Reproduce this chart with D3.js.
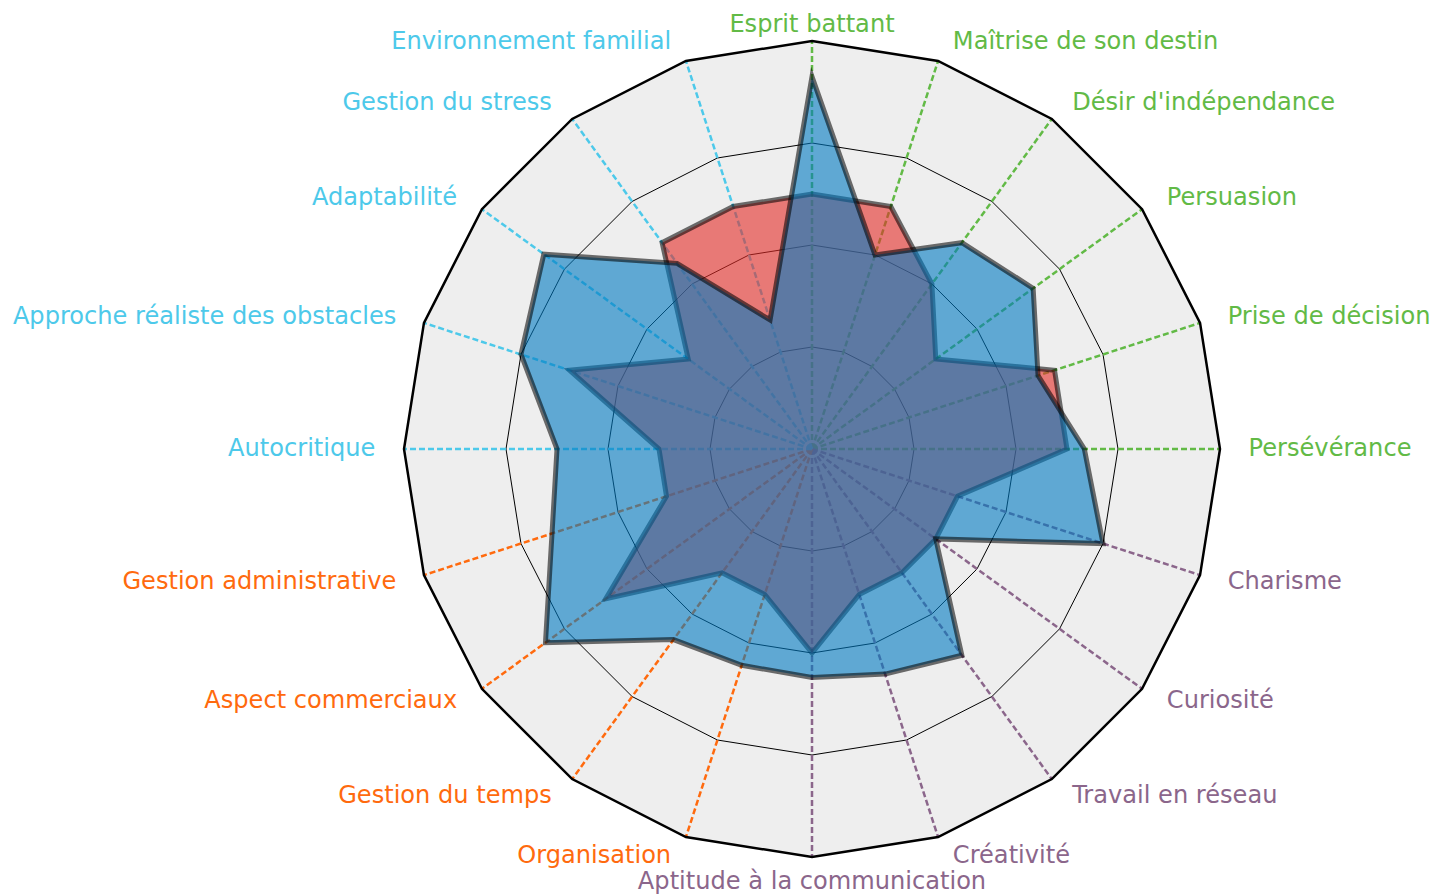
<!DOCTYPE html>
<html>
<head>
<meta charset="utf-8">
<script src="https://cdn.jsdelivr.net/npm/d3@7"></script>
<style>
  html, body { margin: 0; padding: 0; background: #ffffff; }
  svg { display: block; }
</style>
</head>
<body>
<div id="chart"></div>
<script>
// ---- data ----
const categories = [
  "Esprit battant", "Maîtrise de son destin", "Désir d'indépendance", "Persuasion",
  "Prise de décision", "Persévérance", "Charisme", "Curiosité", "Travail en réseau",
  "Créativité", "Aptitude à la communication", "Organisation", "Gestion du temps",
  "Aspect commerciaux", "Gestion administrative", "Autocritique",
  "Approche réaliste des obstacles", "Adaptabilité", "Gestion du stress",
  "Environnement familial"
];
const groups = [
  "g", "g", "g", "g", "g", "g",
  "p", "p", "p", "p", "p",
  "o", "o", "o", "o",
  "c", "c", "c", "c", "c"
];
const seriesRed  = [2.5, 2.5, 2.0, 1.5, 2.5, 2.5, 1.5, 1.5, 1.5, 1.5, 2.0, 1.5, 1.5, 2.5, 1.5, 1.5, 2.5, 1.5, 2.5, 2.5];
const seriesBlue = [3.65, 2.0, 2.5, 2.68, 2.33, 2.67, 3.0, 1.5, 2.5, 2.32, 2.24, 2.23, 2.31, 3.23, 2.68, 2.5, 3.0, 3.25, 2.25, 1.33];
const ringLevels = [1, 2, 3, 4];

// ---- styling ----
const groupColors = { g: "#62ba46", p: "#8b668b", o: "#ff6a0e", c: "#4dc9ea" };
const W = 1434, H = 895;
const cx = 812, cy = 449;
const fontSize = 24.1;

const svg = d3.select("#chart").append("svg")
  .attr("width", W).attr("height", H)
  .style("background", "#ffffff");

const g = svg.append("g").attr("transform", `translate(${cx},${cy})`);

const n = categories.length;
const angle = d3.scaleLinear().domain([0, n]).range([0, 2 * Math.PI]);
const r = d3.scaleLinear().domain([0, 4]).range([0, 408]);

const radial = d3.lineRadial()
  .angle((d, i) => angle(i))
  .radius(d => r(d))
  .curve(d3.curveLinearClosed);

// background
g.append("path")
  .attr("d", radial(d3.range(n).map(() => 4)))
  .attr("fill", "#eeeeee")
  .attr("stroke", "none");

// inner rings
ringLevels.slice(0, -1).forEach(lv => {
  g.append("path")
    .attr("d", radial(d3.range(n).map(() => lv)))
    .attr("fill", "none")
    .attr("stroke", "#000")
    .attr("stroke-width", 1);
});

// axes (dashed)
categories.forEach((c, i) => {
  const a = angle(i);
  g.append("line")
    .attr("x1", 0).attr("y1", 0)
    .attr("x2", r(4) * Math.sin(a))
    .attr("y2", -r(4) * Math.cos(a))
    .attr("stroke", groupColors[groups[i]])
    .attr("stroke-width", 2.5)
    .attr("stroke-dasharray", "6,3");
});

// outer ring
g.append("path")
  .attr("d", radial(d3.range(n).map(() => ringLevels[ringLevels.length - 1])))
  .attr("fill", "none")
  .attr("stroke", "#000")
  .attr("stroke-width", 2.5);

// series polygons
const series = [
  { values: seriesRed, color: "#e42b27" },
  { values: seriesBlue, color: "#0079c1" }
];
series.forEach(s => {
  g.append("path")
    .attr("d", radial(s.values))
    .attr("fill", s.color)
    .attr("fill-opacity", 0.6)
    .attr("stroke", "#000")
    .attr("stroke-opacity", 0.56)
    .attr("stroke-width", 5)
    .attr("stroke-linejoin", "miter")
    .attr("stroke-miterlimit", 10);
});

// labels
const labelR = r(4) + 20;
const pad = 8.6;
categories.forEach((c, i) => {
  const a = angle(i);
  const s = Math.sin(a), co = Math.cos(a);
  let x = labelR * s;
  let anchor = "middle";
  if (s > 0.01) { anchor = "start"; x += pad; }
  else if (s < -0.01) { anchor = "end"; x -= pad; }
  let yc = -labelR * co - 1.5;
  if (Math.abs(s) <= 0.01) yc += (co > 0 ? 4 : 5);
  g.append("text")
    .attr("x", x)
    .attr("y", yc + 0.3645 * fontSize)
    .attr("text-anchor", anchor)
    .attr("font-family", "'DejaVu Sans', sans-serif")
    .attr("font-size", fontSize)
    .attr("fill", groupColors[groups[i]])
    .text(c);
});
</script>
</body>
</html>
